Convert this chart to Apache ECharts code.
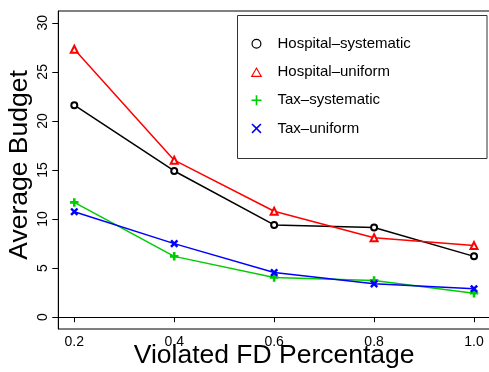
<!DOCTYPE html>
<html>
<head>
<meta charset="utf-8">
<script src="https://cdn.jsdelivr.net/npm/echarts@6/dist/echarts.min.js"></script>
<style>html,body{margin:0;padding:0;background:#fff}#c{width:489px;height:372px}</style>
</head>
<body>
<div id="c"></div>
<script>
const xValues = [0.2, 0.4, 0.6, 0.8, 1.0];
const seriesNames = ['Hospital\u2013systematic', 'Hospital\u2013uniform', 'Tax\u2013systematic', 'Tax\u2013uniform'];
const hospitalSystematic = [21.6, 14.9, 9.4, 9.15, 6.2];
const hospitalUniform = [27.3, 16.0, 10.8, 8.1, 7.3];
const taxSystematic = [11.7, 6.2, 4.05, 3.75, 2.45];
const taxUniform = [10.75, 7.5, 4.55, 3.4, 2.9];
const xTicks = [0.2, 0.4, 0.6, 0.8, 1.0];
const yTicks = [0, 5, 10, 15, 20, 25, 30];

const PLUS = 'path://M4.2,0H5.8V4.2H10V5.8H5.8V10H4.2V5.8H0V4.2H4.2Z';
const CROSS = 'path://M1.1,0L5,3.9L8.9,0L10,1.1L6.1,5L10,8.9L8.9,10L5,6.1L1.1,10L0,8.9L3.9,5L0,1.1Z';
const RING = 'path://M0,5A5,5 0 1,0 10,5A5,5 0 1,0 0,5Z M1.2,5A3.8,3.8 0 1,1 8.8,5A3.8,3.8 0 1,1 1.2,5Z';
const TRI_RING = 'path://M5,0L10,8.66L0,8.66Z M5,2L1.732,7.66L8.268,7.66Z';

const colors = ['#000000', '#FF0000', '#00CD00', '#0000FF'];
const dataSets = [hospitalSystematic, hospitalUniform, taxSystematic, taxUniform];
const symbols = ['emptyCircle', 'emptyTriangle', PLUS, CROSS];
const legendIcons = [RING, TRI_RING, PLUS, CROSS];
const symbolSizes = [6, 7, 7, 6];

const font = 'Liberation Sans, Arial, Helvetica, sans-serif';
const chart = echarts.init(document.getElementById('c'), null, {renderer: 'canvas'});

const series = dataSets.map((d, i) => ({
  name: seriesNames[i],
  type: 'line',
  data: d.map((v, j) => [xValues[j], v]),
  symbol: symbols[i],
  symbolSize: symbolSizes[i],
  showAllSymbol: true,
  lineStyle: {color: colors[i], width: 1.5},
  itemStyle: {color: colors[i], borderColor: colors[i], borderWidth: 1.5},
  emphasis: {disabled: true},
  animation: false,
  z: 3
}));

chart.setOption({
  animation: false,
  backgroundColor: '#fff',
  grid: {left: 58.3, right: -1, top: 11, bottom: 43, outerBoundsMode: 'none', containLabel: false, show: true, borderColor: '#000', borderWidth: 1, backgroundColor: 'transparent'},
  xAxis: {
    type: 'value', min: 0.168, max: 1.032,
    name: 'Violated FD Percentage', nameLocation: 'middle', nameGap: 13, nameMoveOverlap: false,
    nameTextStyle: {fontFamily: font, fontSize: 26.5, color: '#000', verticalAlign: 'top'},
    axisLine: {show: true, lineStyle: {color: '#000', width: 1}},
    axisTick: {show: true, length: 5, lineStyle: {color: '#000'}, customValues: xTicks},
    axisLabel: {show: true, margin: 6, fontFamily: font, fontSize: 14, color: '#000', customValues: xTicks, formatter: v => v.toFixed(1)},
    splitLine: {show: false}
  },
  yAxis: {
    type: 'value', min: -1.2, max: 31.2,
    name: 'Average Budget', nameLocation: 'middle', nameGap: 25, nameMoveOverlap: false,
    nameTextStyle: {fontFamily: font, fontSize: 26.5, color: '#000', padding: [0, 0, 0, 10]},
    axisLine: {show: true, lineStyle: {color: '#000', width: 1}},
    axisTick: {show: true, length: 6, lineStyle: {color: '#000'}, customValues: yTicks},
    axisLabel: {show: true, rotate: 90, margin: 8, fontFamily: font, fontSize: 14, color: '#000', customValues: yTicks},
    splitLine: {show: false}
  },
  legend: {
    orient: 'vertical', left: 250.7, top: 36.3, padding: 0,
    itemWidth: 32, itemHeight: 10, itemGap: 13.2,
    textStyle: {fontFamily: font, fontSize: 15, color: '#000', lineHeight: 14},
    selectedMode: false,
    data: seriesNames.map((n, i) => ({
      name: n,
      icon: legendIcons[i],
      itemStyle: {color: colors[i], borderWidth: 0}
    }))
  },
  graphic: [{
    type: 'rect', left: 235, top: 13, z: 10, silent: true,
    shape: {width: 249.5, height: 143},
    style: {fill: 'none', stroke: '#333', lineWidth: 1}
  }],
  series: series
});
</script>
</body>
</html>
